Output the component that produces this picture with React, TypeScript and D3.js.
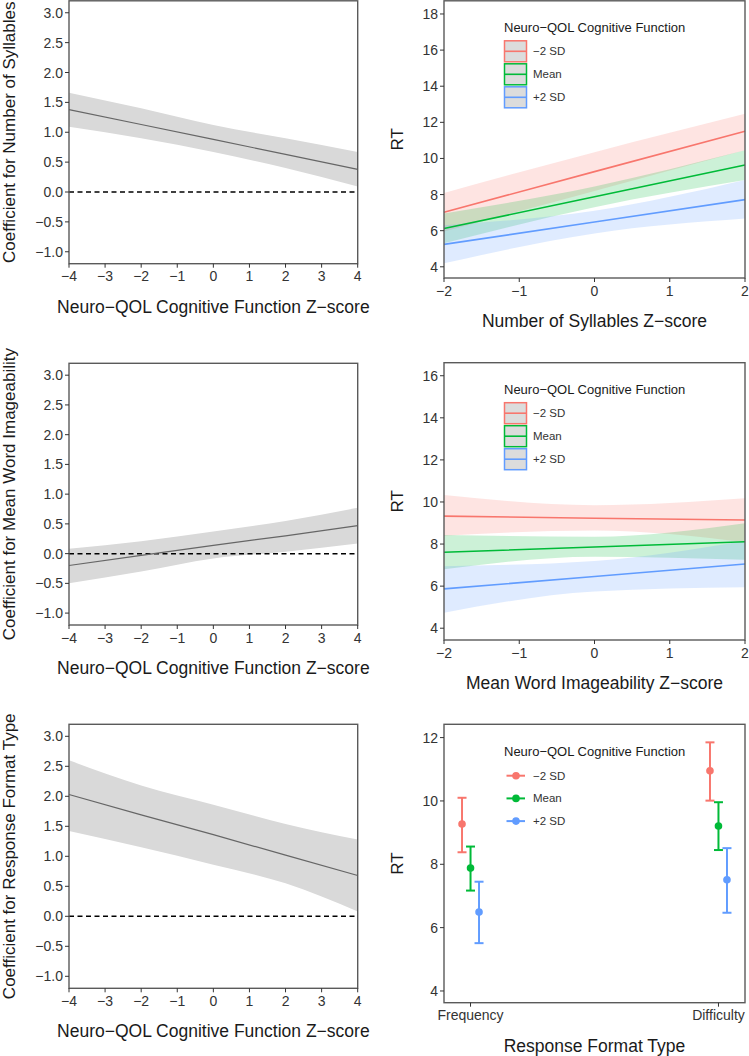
import React, { useEffect, useRef } from 'react';
import * as d3 from 'd3';

const FONT = '"Liberation Sans", Arial, Helvetica, sans-serif';

// left column: coefficient as a function of Neuro-QOL z-score
const qolZ = [-4, -2, 0, 2, 4];
const qolTicks = [-4, -3, -2, -1, 0, 1, 2, 3, 4];
const coefTicks = [-1, -0.5, 0, 0.5, 1, 1.5, 2, 2.5, 3];
const sylCoef = [1.38, 1.13, 0.88, 0.63, 0.38];
const sylLo = [1.09, 0.9, 0.67, 0.4, 0.09];
const sylHi = [1.66, 1.4, 1.12, 0.9, 0.67];
const imgCoef = [-0.2, -0.03, 0.14, 0.3, 0.47];
const imgLo = [-0.5, -0.3, -0.08, 0.03, 0.17];
const imgHi = [0.08, 0.21, 0.37, 0.55, 0.77];
const fmtCoef = [2.03, 1.69, 1.36, 1.02, 0.68];
const fmtLo = [1.42, 1.15, 0.86, 0.55, 0.08];
const fmtHi = [2.6, 2.18, 1.86, 1.54, 1.28];

// right column: predicted RT per Neuro-QOL group
const groups = ['\u22122 SD', 'Mean', '+2 SD'];
const colors = ['#F8766D', '#00BA38', '#619CFF'];
const predZ = [-2, 0, 2];
const predTicks = [-2, -1, 0, 1, 2];
const sylRT = [[7.02, 9.27, 11.51], [6.12, 7.88, 9.64], [5.24, 6.48, 7.72]];
const sylRTLo = [[5.95, 8.2, 10.45], [5.3, 7.3, 8.8], [4.19, 5.85, 6.67]];
const sylRTHi = [[8.09, 10.35, 12.47], [6.95, 8.45, 10.45], [6.3, 7.1, 8.8]];
const imgRT = [[9.33, 9.23, 9.14], [7.61, 7.86, 8.11], [5.87, 6.46, 7.05]];
const imgRTLo = [[8.4, 8.65, 8.1], [6.8, 7.4, 7.25], [4.74, 5.75, 5.95]];
const imgRTHi = [[10.33, 9.85, 10.18], [8.43, 8.35, 8.99], [6.95, 7.2, 8.15]];
const formats = ['Frequency', 'Difficulty'];
const fmtRT = [[9.27, 10.95], [7.88, 9.21], [6.49, 7.51]];
const fmtRTLo = [[8.38, 10.01], [7.17, 8.45], [5.51, 6.47]];
const fmtRTHi = [[10.1, 11.85], [8.56, 9.96], [7.45, 8.51]];

const LX = [69, 357.7];
const RX = [444, 745];
const leftRows = [[0.8, 263.7], [363.3, 625], [724.3, 988.3]];
const rightRows = [[0.8, 278], [362.7, 640], [724.3, 1002.7]];

const App = () => {
  const svgRef = useRef<SVGSVGElement>(null);

  useEffect(() => {
    const svg = d3.select(svgRef.current);
    svg.selectAll('*').remove();
    svg.append('rect').attr('width', 749).attr('height', 1056).attr('fill', '#fff');

    const frame = (x: any, y: any, top: number, bottom: number, xTicks: any[], yTicks: number[],
      yFmt: (d: number) => string, xTitle: string, yTitle: string, yTitleX: number, xFmt?: (d: any) => string) => {
      const l = Math.min(...x.range()), r = Math.max(...x.range());
      const g = svg.append('g');
      yTicks.forEach(t => {
        g.append('line').attr('x1', l - 4).attr('x2', l).attr('y1', y(t)).attr('y2', y(t))
          .attr('stroke', '#333').attr('stroke-width', 1);
        g.append('text').attr('x', l - 6).attr('y', y(t)).attr('dy', '0.36em')
          .attr('text-anchor', 'end').attr('font-size', 14).attr('fill', '#333').text(yFmt(t));
      });
      xTicks.forEach(t => {
        const px = x(t);
        g.append('line').attr('x1', px).attr('x2', px).attr('y1', bottom).attr('y2', bottom + 4)
          .attr('stroke', '#333').attr('stroke-width', 1);
        g.append('text').attr('x', px).attr('y', bottom + 17.5)
          .attr('text-anchor', 'middle').attr('font-size', 14).attr('fill', '#333')
          .text(xFmt ? xFmt(t) : t);
      });
      g.append('text').attr('x', (l + r) / 2).attr('y', bottom + 49).attr('text-anchor', 'middle')
        .attr('font-size', 17.5).attr('fill', '#1a1a1a').text(xTitle);
      const yt = g.append('text').attr('text-anchor', 'middle').attr('font-size', 17)
        .attr('fill', '#1a1a1a').text(yTitle);
      let cy = (top + bottom) / 2;
      const len = (yt.node() as SVGTextElement).getComputedTextLength();
      if (cy - len / 2 < 1) cy = 1 + len / 2; // keep the top of the title inside the page
      yt.attr('transform', `translate(${yTitleX},${cy}) rotate(-90)`);
      return g;
    };

    const border = (l: number, r: number, top: number, bottom: number) => {
      svg.append('rect').attr('x', l).attr('y', top).attr('width', r - l).attr('height', bottom - top)
        .attr('fill', 'none').attr('stroke', '#5a5a5a').attr('stroke-width', 1.4);
    };

    const coefFmt = d3.format('.1f');
    const intFmt = d3.format('d');

    // ---- left column ----
    const leftPanels = [
      { c: sylCoef, lo: sylLo, hi: sylHi, title: 'Coefficient for Number of Syllables' },
      { c: imgCoef, lo: imgLo, hi: imgHi, title: 'Coefficient for Mean Word Imageability' },
      { c: fmtCoef, lo: fmtLo, hi: fmtHi, title: 'Coefficient for Response Format Type' },
    ];
    leftPanels.forEach((p, i) => {
      const [top, bottom] = leftRows[i];
      const x = d3.scaleLinear().domain([-4, 4]).range(LX);
      const y = d3.scaleLinear().domain([-1.2, 3.2]).range([bottom, top]);
      const area = d3.area<number>().x((d, j) => x(qolZ[j])).y0((d, j) => y(p.lo[j])).y1((d, j) => y(p.hi[j]))
        .curve(d3.curveMonotoneX);
      svg.append('path').attr('d', area(p.c)).attr('fill', '#d9d9d9');
      svg.append('line').attr('x1', LX[0]).attr('x2', LX[1]).attr('y1', y(0)).attr('y2', y(0))
        .attr('stroke', '#000').attr('stroke-width', 1.5).attr('stroke-dasharray', '5,3.5');
      const line = d3.line<number>().x((d, j) => x(qolZ[j])).y(d => y(d));
      svg.append('path').attr('d', line(p.c)).attr('fill', 'none').attr('stroke', '#666').attr('stroke-width', 1.2);
      border(LX[0], LX[1], top, bottom);
      frame(x, y, top, bottom, qolTicks, coefTicks, coefFmt,
        'Neuro\u2212QOL Cognitive Function Z\u2212score', p.title, 15, intFmt);
    });

    // ---- ribbon legends ----
    const ribbonLegend = (top: number) => {
      const g = svg.append('g');
      g.append('text').attr('x', 504).attr('y', top + 31).attr('font-size', 13).attr('fill', '#1a1a1a')
        .text('Neuro\u2212QOL Cognitive Function');
      groups.forEach((gr, k) => {
        const ky = top + 40 + k * 23;
        g.append('rect').attr('x', 504.5).attr('y', ky).attr('width', 22).attr('height', 21)
          .attr('fill', '#dcdcdc').attr('stroke', colors[k]).attr('stroke-width', 1.5);
        g.append('line').attr('x1', 505).attr('x2', 526).attr('y1', ky + 10.5).attr('y2', ky + 10.5)
          .attr('stroke', colors[k]).attr('stroke-width', 1.6);
        g.append('text').attr('x', 533).attr('y', ky + 10.5).attr('dy', '0.35em').attr('font-size', 11.5)
          .attr('fill', '#333').text(gr);
      });
    };

    // ---- right column, continuous panels ----
    const rightPanels = [
      { v: sylRT, lo: sylRTLo, hi: sylRTHi, dom: [3.38, 18.73], ticks: [4, 6, 8, 10, 12, 14, 16, 18], title: 'Number of Syllables Z\u2212score' },
      { v: imgRT, lo: imgRTLo, hi: imgRTHi, dom: [3.44, 16.62], ticks: [4, 6, 8, 10, 12, 14, 16], title: 'Mean Word Imageability Z\u2212score' },
    ];
    rightPanels.forEach((p, i) => {
      const [top, bottom] = rightRows[i];
      const x = d3.scaleLinear().domain([-2, 2]).range(RX);
      const y = d3.scaleLinear().domain(p.dom).range([bottom, top]);
      p.v.forEach((vals, k) => {
        const area = d3.area<number>().x((d, j) => x(predZ[j])).y0((d, j) => y(p.lo[k][j])).y1((d, j) => y(p.hi[k][j]))
          .curve(d3.curveMonotoneX);
        svg.append('path').attr('d', area(vals)).attr('fill', colors[k]).attr('fill-opacity', 0.2);
      });
      p.v.forEach((vals, k) => {
        const line = d3.line<number>().x((d, j) => x(predZ[j])).y(d => y(d));
        svg.append('path').attr('d', line(vals)).attr('fill', 'none').attr('stroke', colors[k]).attr('stroke-width', 1.6);
      });
      border(RX[0], RX[1], top, bottom);
      frame(x, y, top, bottom, predTicks, p.ticks, intFmt, p.title, 'RT', 403, intFmt);
      ribbonLegend(top);
    });

    // ---- right column, response format panel ----
    {
      const [top, bottom] = rightRows[2];
      const x = d3.scalePoint<string>().domain(formats).range(RX).padding(0.107);
      const y = d3.scaleLinear().domain([3.63, 12.42]).range([bottom, top]);
      const dodge = d3.scalePoint<number>().domain([0, 1, 2]).range([-8.5, 8.5]);
      fmtRT.forEach((vals, k) => {
        formats.forEach((f, j) => {
          const cx = (x(f) as number) + (dodge(k) as number);
          const g = svg.append('g').attr('stroke', colors[k]).attr('stroke-width', 2);
          g.append('line').attr('x1', cx).attr('x2', cx).attr('y1', y(fmtRTLo[k][j])).attr('y2', y(fmtRTHi[k][j]));
          g.append('line').attr('x1', cx - 4.5).attr('x2', cx + 4.5).attr('y1', y(fmtRTLo[k][j])).attr('y2', y(fmtRTLo[k][j]));
          g.append('line').attr('x1', cx - 4.5).attr('x2', cx + 4.5).attr('y1', y(fmtRTHi[k][j])).attr('y2', y(fmtRTHi[k][j]));
          svg.append('circle').attr('cx', cx).attr('cy', y(vals[j])).attr('r', 3.8).attr('fill', colors[k]);
        });
      });
      border(RX[0], RX[1], top, bottom);
      frame(x, y, top, bottom, formats, [4, 6, 8, 10, 12], intFmt, 'Response Format Type', 'RT', 403);
      const g = svg.append('g');
      g.append('text').attr('x', 504).attr('y', top + 31.5).attr('font-size', 13).attr('fill', '#1a1a1a')
        .text('Neuro\u2212QOL Cognitive Function');
      groups.forEach((gr, k) => {
        const ky = top + 51.4 + k * 22.7;
        g.append('line').attr('x1', 506.5).attr('x2', 525).attr('y1', ky).attr('y2', ky)
          .attr('stroke', colors[k]).attr('stroke-width', 2);
        g.append('circle').attr('cx', 516).attr('cy', ky).attr('r', 3.8).attr('fill', colors[k]);
        g.append('text').attr('x', 533).attr('y', ky).attr('dy', '0.35em').attr('font-size', 11.5)
          .attr('fill', '#333').text(gr);
      });
    }
  }, []);

  return (
    <svg ref={svgRef} width={749} height={1056}
      style={{ position: 'absolute', left: 0, top: 0, fontFamily: FONT }} />
  );
};

export default App;
